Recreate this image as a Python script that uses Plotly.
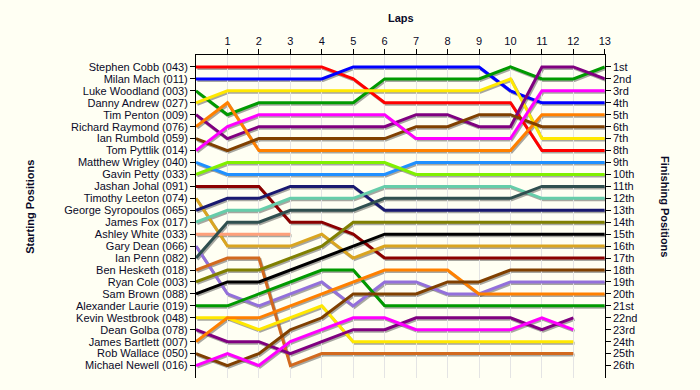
import plotly.graph_objects as go

# ---------------- data ----------------
laps = list(range(0, 14))
lap_ticks = list(range(1, 14))

drivers = ["Stephen Cobb (043)", "Milan Mach (011)", "Luke Woodland (003)", "Danny Andrew (027)",
           "Tim Penton (009)", "Richard Raymond (076)", "Ian Rumbold (059)", "Tom Pyttlik (014)",
           "Matthew Wrigley (040)", "Gavin Petty (033)", "Jashan Johal (091)", "Timothy Leeton (074)",
           "George Syropoulos (065)", "James Fox (017)", "Ashley White (033)", "Gary Dean (066)",
           "Ian Penn (082)", "Ben Hesketh (018)", "Ryan Cole (003)", "Sam Brown (088)",
           "Alexander Laurie (019)", "Kevin Westbrook (048)", "Dean Golba (078)", "James Bartlett (007)",
           "Rob Wallace (050)", "Michael Newell (016)"]

finish_labels = ["1st", "2nd", "3rd", "4th", "5th", "6th", "7th", "8th", "9th", "10th", "11th", "12th",
                 "13th", "14th", "15th", "16th", "17th", "18th", "19th", "20th", "21st", "22nd", "23rd",
                 "24th", "25th", "26th"]

# position of each driver at the end of each lap (lap 0 = grid)
pos_cobb = [1, 1, 1, 1, 1, 2, 4, 4, 4, 4, 4, 8, 8, 8]
pos_mach = [2, 2, 2, 2, 2, 1, 1, 1, 1, 1, 3, 4, 4, 4]
pos_woodland = [3, 5, 4, 4, 4, 4, 2, 2, 2, 2, 1, 2, 2, 1]
pos_andrew = [4, 3, 3, 3, 3, 3, 3, 3, 3, 3, 2, 7, 7, 7]
pos_penton = [5, 7, 6, 6, 6, 6, 6, 5, 5, 6, 6, 1, 1, 2]
pos_raymond = [6, 4, 8, 8, 8, 8, 8, 8, 8, 8, 8, 5, 5, 5]
pos_rumbold = [7, 8, 7, 7, 7, 7, 7, 6, 6, 5, 5, 6, 6, 6]
pos_pyttlik = [8, 6, 5, 5, 5, 5, 5, 7, 7, 7, 7, 3, 3, 3]
pos_wrigley = [9, 10, 10, 10, 10, 10, 10, 9, 9, 9, 9, 9, 9, 9]
pos_petty = [10, 9, 9, 9, 9, 9, 9, 10, 10, 10, 10, 10, 10, 10]
pos_johal = [11, 11, 11, 14, 14, 15, 17, 17, 17, 17, 17, 17, 17, 17]
pos_leeton = [12, 16, 16, 16, 15, 17, 16, 16, 16, 16, 16, 16, 16, 16]
pos_syropoulos = [13, 12, 12, 11, 11, 11, 13, 13, 13, 13, 13, 13, 13, 13]
pos_fox = [14, 13, 13, 12, 12, 12, 11, 11, 11, 11, 11, 12, 12, 12]
pos_white = [15, 15, 15, 15]
pos_dean = [16, 20, 21, 20, 19, 21, 19, 19, 20, 20, 19, 19, 19, 19]
pos_penn = [17, 14, 14, 13, 13, 13, 12, 12, 12, 12, 12, 11, 11, 11]
pos_hesketh = [18, 17, 17, 26, 25, 25, 25, 25, 25, 25, 25, 25, 25]
pos_cole = [19, 18, 18, 17, 16, 14, 14, 14, 14, 14, 14, 14, 14, 14]
pos_brown = [20, 19, 19, 18, 17, 16, 15, 15, 15, 15, 15, 15, 15, 15]
pos_laurie = [21, 21, 20, 19, 18, 18, 21, 21, 21, 21, 21, 21, 21, 21]
pos_westbrook = [22, 22, 23, 22, 21, 24, 24, 24, 24, 24, 24, 24, 24]
pos_golba = [23, 24, 24, 25, 24, 23, 23, 22, 22, 22, 22, 23, 22]
pos_bartlett = [24, 22, 22, 21, 20, 19, 18, 18, 18, 20, 20, 20, 20, 20]
pos_wallace = [25, 26, 25, 23, 22, 20, 20, 20, 19, 19, 18, 18, 18, 18]
pos_newell = [26, 25, 26, 24, 23, 22, 22, 23, 23, 23, 23, 22, 23]

positions = [pos_cobb, pos_mach, pos_woodland, pos_andrew, pos_penton, pos_raymond, pos_rumbold,
             pos_pyttlik, pos_wrigley, pos_petty, pos_johal, pos_leeton, pos_syropoulos, pos_fox,
             pos_white, pos_dean, pos_penn, pos_hesketh, pos_cole, pos_brown, pos_laurie,
             pos_westbrook, pos_golba, pos_bartlett, pos_wallace, pos_newell]

colors = ["#ff0000", "#0000ff", "#009a00", "#ffe800", "#800080", "#ff8000", "#804000", "#ff00ff",
          "#2090ff", "#80f000", "#8b0000", "#daa520", "#191970", "#66cdaa", "#ffa07a", "#9370db",
          "#2f4f4f", "#d2691e", "#808000", "#000000", "#009a00", "#ffe800", "#800080", "#ff8000",
          "#804000", "#ff00ff"]

# ---------------- geometry ----------------
W, H = 700, 390
L, T = 196, 55          # left / top of plot area (px)
PW, PH = 409, 323       # plot width / height (px)
SX, SY = 1.2, 1.5       # shadow offset (px)
FONT = "Liberation Sans"
TXT = "#0a0a28"
BG = "#fffff3"

fig = go.Figure()

# shadows (subplot x/y, shifted a little right/down)
for p in positions:
    fig.add_trace(go.Scatter(x=laps[:len(p)], y=p, mode="lines", xaxis="x", yaxis="y",
                             line=dict(color="rgba(60,60,60,0.45)", width=3),
                             hoverinfo="skip", showlegend=False))
# lines
for name, p, c in zip(drivers, positions, colors):
    fig.add_trace(go.Scatter(x=laps[:len(p)], y=p, mode="lines", xaxis="x2", yaxis="y2",
                             name=name, line=dict(color=c, width=3), showlegend=False))
# anchor for the right-hand axis
fig.add_trace(go.Scatter(x=[laps[0]], y=[1], mode="lines", xaxis="x2", yaxis="y3",
                         hoverinfo="skip", showlegend=False))

xs = SX / (PW + SX)
ys = SY / (PH + SY)

def px_x(px):
    return (px - L) / (PW + SX)

def px_y(py):
    return (T + PH + SY - py) / (PH + SY)

fig.update_layout(
    width=W, height=H,
    margin=dict(l=L, r=W - L - PW - SX, t=T, b=H - T - PH - SY, pad=0),
    paper_bgcolor=BG, plot_bgcolor="rgba(0,0,0,0)",
    font=dict(family=FONT, size=11, color=TXT),
    showlegend=False,
    xaxis=dict(domain=[xs, 1], range=[0, 13], visible=False, anchor="y"),
    yaxis=dict(domain=[0, 1 - ys], range=[27, 0], visible=False, anchor="x"),
    xaxis2=dict(domain=[0, 1 - xs], range=[0, 13], anchor="y2", side="top",
                tickvals=lap_ticks, ticktext=[str(v) for v in lap_ticks],
                showline=True, linecolor="black", linewidth=1,
                ticks="outside", ticklen=5, tickcolor="black",
                showgrid=True, gridcolor="#e4e4e4", gridwidth=1, zeroline=False,
                tickfont=dict(family=FONT, size=11, color=TXT)),
    yaxis2=dict(domain=[ys, 1], range=[27, 0], anchor="x2",
                tickvals=list(range(1, 27)), ticktext=drivers,
                showline=True, linecolor="black", linewidth=1,
                ticks="outside", ticklen=5, tickcolor="black",
                showgrid=False, zeroline=False,
                tickfont=dict(family=FONT, size=11, color=TXT)),
    yaxis3=dict(domain=[ys, 1], range=[27, 0], anchor="x2", overlaying="y2", side="right",
                tickvals=list(range(1, 27)), ticktext=finish_labels,
                showline=True, linecolor="black", linewidth=1,
                ticks="outside", ticklen=5, tickcolor="black",
                showgrid=False, zeroline=False,
                tickfont=dict(family=FONT, size=11, color=TXT)),
    annotations=[
        dict(text="<b>Laps</b>", xref="paper", yref="paper", x=px_x(401), y=px_y(18),
             xanchor="center", yanchor="middle", showarrow=False,
             font=dict(family=FONT, size=11, color=TXT)),
        dict(text="<b>Starting Positions</b>", xref="paper", yref="paper", x=px_x(30), y=px_y(207),
             xanchor="center", yanchor="middle", showarrow=False, textangle=-90,
             font=dict(family=FONT, size=11, color=TXT)),
        dict(text="<b>Finishing Positions</b>", xref="paper", yref="paper", x=px_x(665), y=px_y(207),
             xanchor="center", yanchor="middle", showarrow=False, textangle=90,
             font=dict(family=FONT, size=11, color=TXT)),
    ],
)

fig.write_html("out.html", config={"displayModeBar": False},
               post_script="document.body.style.margin='0';document.body.style.background='" + BG + "';")
